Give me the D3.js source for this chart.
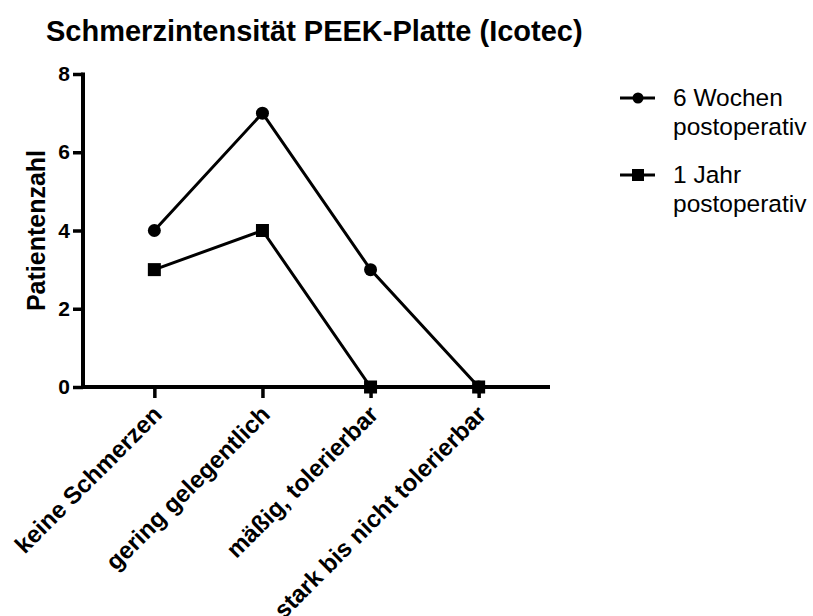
<!DOCTYPE html>
<html>
<head>
<meta charset="utf-8">
<script src="https://cdn.jsdelivr.net/npm/d3@7"></script>
<style>
  html, body { margin: 0; padding: 0; background: #fff; }
  svg { display: block; font-family: "Liberation Sans", Arial, Helvetica, sans-serif; }
</style>
</head>
<body>
<svg id="chart" width="813" height="616"></svg>
<script>
// Pain intensity categories and patient counts per follow-up time
const categories = ["keine Schmerzen", "gering gelegentlich", "mäßig, tolerierbar", "stark bis nicht tolerierbar"];
const weeks6 = [4, 7, 3, 0];
const year1 = [3, 4, 0, 0];
const seriesNames = ["6 Wochen\npostoperativ", "1 Jahr\npostoperativ"];
const yTicks = [0, 2, 4, 6, 8];

const svg = d3.select("#chart");

const x = d3.scalePoint().domain(categories).range([83, 550]).padding(0.66);
const y = d3.scaleLinear().domain([0, 8]).range([387, 74]);

// Title
svg.append("text")
  .attr("x", 46).attr("y", 41)
  .attr("font-size", 29).attr("font-weight", "bold")
  .text("Schmerzintensität PEEK-Platte (Icotec)");

// Y axis
const yAxis = svg.append("g")
  .attr("transform", "translate(83,0)")
  .call(d3.axisLeft(y).tickValues(yTicks).tickSize(10).tickSizeOuter(0).tickPadding(3));
yAxis.select(".domain").attr("stroke-width", 4).attr("d", `M0,${y(8) - 1.5}V${y(0) + 2}`);
yAxis.selectAll(".tick line").attr("stroke-width", 3.5);
yAxis.selectAll(".tick text").attr("font-size", 21).attr("font-weight", "bold").attr("fill", "#000").attr("font-family", null);

// X axis
const xAxis = svg.append("g")
  .attr("transform", `translate(0,${y(0)})`)
  .call(d3.axisBottom(x).tickSize(11).tickSizeOuter(0).tickFormat(""));
xAxis.select(".domain").attr("stroke-width", 4).attr("d", `M81,0H550`);
xAxis.selectAll(".tick line").attr("stroke-width", 3.5);

// Rotated category labels
svg.append("g").selectAll("text")
  .data(categories)
  .join("text")
  .attr("transform", d => `translate(${x(d) + 9},${y(0) + 29}) rotate(-45)`)
  .attr("text-anchor", "end")
  .attr("font-size", 24).attr("font-weight", "bold")
  .text(d => d);

// Y axis title
svg.append("text")
  .attr("transform", `translate(45,${(y(0) + y(8)) / 2}) rotate(-90)`)
  .attr("text-anchor", "middle")
  .attr("font-size", 25).attr("font-weight", "bold")
  .text("Patientenzahl");

// Series lines and markers
const line = d3.line().x((d, i) => x(categories[i])).y(d => y(d));
const plot = svg.append("g");

plot.append("path").datum(weeks6).attr("d", line)
  .attr("fill", "none").attr("stroke", "#000").attr("stroke-width", 3);
plot.append("path").datum(year1).attr("d", line)
  .attr("fill", "none").attr("stroke", "#000").attr("stroke-width", 3);

plot.selectAll("circle").data(weeks6).join("circle")
  .attr("cx", (d, i) => x(categories[i])).attr("cy", d => y(d)).attr("r", 6.5).attr("fill", "#000");
plot.selectAll("rect").data(year1).join("rect")
  .attr("x", (d, i) => x(categories[i]) - 6.5).attr("y", d => y(d) - 6.5)
  .attr("width", 13).attr("height", 13).attr("fill", "#000");

// Legend
const legendY = [98, 175];
const legend = svg.append("g");
seriesNames.forEach((name, i) => {
  const g = legend.append("g").attr("transform", `translate(620,${legendY[i]})`);
  g.append("line").attr("x1", 0).attr("x2", 35).attr("y1", 0).attr("y2", 0)
    .attr("stroke", "#000").attr("stroke-width", 3);
  if (i === 0) g.append("circle").attr("cx", 18).attr("cy", 0).attr("r", 5.5).attr("fill", "#000");
  else g.append("rect").attr("x", 12).attr("y", -6).attr("width", 12).attr("height", 12).attr("fill", "#000");
  const t = g.append("text").attr("x", 53).attr("y", 8).attr("font-size", 24.5);
  name.split("\n").forEach((s, k) => {
    t.append("tspan").attr("x", 53).attr("dy", k === 0 ? 0 : 29).text(s);
  });
});
</script>
</body>
</html>
